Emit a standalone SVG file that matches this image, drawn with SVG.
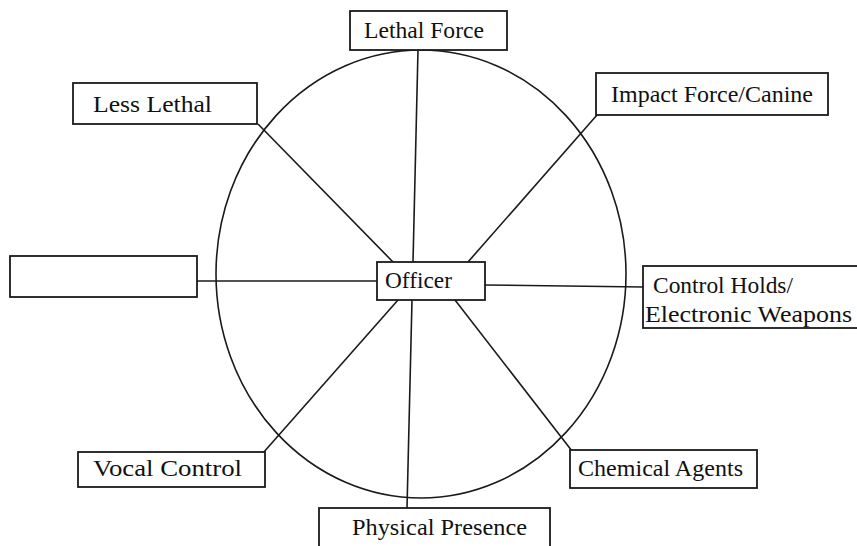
<svg xmlns="http://www.w3.org/2000/svg" width="857" height="546" viewBox="0 0 857 546">
<style>
.bx{fill:#fff;stroke:#1a1a1a;stroke-width:1.8}
.ln{stroke:#1a1a1a;stroke-width:1.6;fill:none}
.t{font-family:"Liberation Serif","Times New Roman",serif;font-size:24px;fill:#111}
</style>
<rect width="857" height="546" fill="#fff"/>
<g id="connectors">
<ellipse class="ln" cx="421" cy="274" rx="205" ry="224"/>
<line class="ln" x1="418" y1="50" x2="413" y2="262"/>
<line class="ln" x1="258" y1="124" x2="393" y2="262"/>
<line class="ln" x1="597" y1="115" x2="468" y2="262"/>
<line class="ln" x1="197" y1="281" x2="377" y2="281"/>
<line class="ln" x1="485" y1="285" x2="643" y2="287"/>
<line class="ln" x1="455" y1="300" x2="572" y2="451"/>
<line class="ln" x1="398" y1="300" x2="263" y2="453"/>
<line class="ln" x1="412" y1="300" x2="407" y2="508"/>
</g>
<g id="officer"><rect class="bx" x="377" y="262" width="108" height="38"/><text class="t" x="385" y="288" textLength="67" lengthAdjust="spacingAndGlyphs">Officer</text></g>
<g id="lethal-force"><rect class="bx" x="350" y="11" width="157" height="39"/><text class="t" x="364" y="38" textLength="120" lengthAdjust="spacingAndGlyphs">Lethal Force</text></g>
<g id="less-lethal"><rect class="bx" x="73" y="83" width="184" height="41"/><text class="t" x="93" y="112" textLength="119" lengthAdjust="spacingAndGlyphs">Less Lethal</text></g>
<g id="impact-force"><rect class="bx" x="596" y="73" width="232" height="42"/><text class="t" x="611" y="102" textLength="202" lengthAdjust="spacingAndGlyphs">Impact Force/Canine</text></g>
<g id="empty"><rect class="bx" x="10" y="256" width="187" height="41"/></g>
<g id="control-holds"><rect class="bx" x="643" y="266" width="230" height="62"/><text class="t" x="653" y="293" textLength="140" lengthAdjust="spacingAndGlyphs">Control Holds/</text><text class="t" x="645" y="322" textLength="207" lengthAdjust="spacingAndGlyphs">Electronic Weapons</text></g>
<g id="vocal-control"><rect class="bx" x="78" y="452" width="187" height="35"/><text class="t" x="93" y="476" textLength="149" lengthAdjust="spacingAndGlyphs">Vocal Control</text></g>
<g id="chemical-agents"><rect class="bx" x="570" y="450" width="187" height="38"/><text class="t" x="578" y="476" textLength="165" lengthAdjust="spacingAndGlyphs">Chemical Agents</text></g>
<g id="physical-presence"><rect class="bx" x="319" y="508" width="231" height="50"/><text class="t" x="352" y="535" textLength="175" lengthAdjust="spacingAndGlyphs">Physical Presence</text></g>
</svg>
